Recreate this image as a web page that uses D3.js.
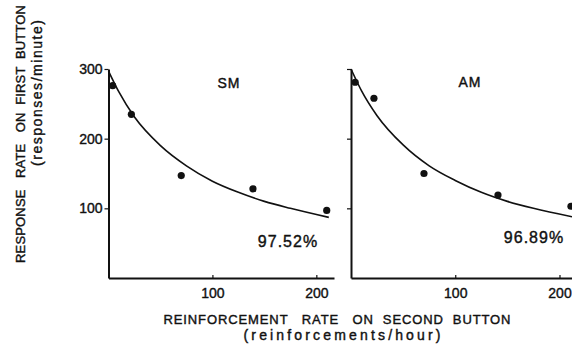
<!DOCTYPE html>
<html>
<head>
    <title>Response rate vs reinforcement rate</title>
    <script src="https://d3js.org/d3.v7.min.js"></script>
    <style>
        body { margin: 0; background: #fff; }
        text { font-family: "Liberation Sans", Arial, sans-serif; fill: #111; stroke: #111; stroke-width: 0.4px; white-space: pre; }
    </style>
</head>
<body>
    <div id="chart"></div>

    <script>
        // values
        const panelNames = ["SM", "AM"];
        const fitLabels = ["97.52%", "96.89%"];
        const xTicks = [100, 200];
        const yTicks = [100, 200, 300];

        // data points (reinforcements/hour, responses/minute)
        const smRate = [4, 22, 70, 139, 210];
        const smResp = [276, 235, 147, 128, 97];
        const amRate = [4, 22, 70, 141, 211];
        const amResp = [281, 258, 150, 119, 103];

        // fitted curves, read at a few x positions
        const curveRate = [0, 10, 25, 50, 75, 100, 125, 150, 175, 212];
        const smCurve = [297, 267, 231, 190, 161, 139, 123, 110, 100, 87];
        const amCurve = [300, 269, 233, 191, 161, 140, 123, 110, 100, 88];

        const width = 572, height = 355;

        const svg = d3.select("#chart").append("svg")
            .attr("width", width)
            .attr("height", height);

        const y = d3.scaleLinear().domain([0, 300]).range([278, 69]);

        const panels = [
            { name: panelNames[0], fit: fitLabels[0], rate: smRate, resp: smResp, curve: smCurve,
              x: d3.scaleLinear().domain([0, 217]).range([108.5, 334]),
              labels: true, nameX: 229, nameY: 88, fitX: 288, fitY: 247 },
            { name: panelNames[1], fit: fitLabels[1], rate: amRate, resp: amResp, curve: amCurve,
              x: d3.scaleLinear().domain([0, 212]).range([351, 572]),
              labels: false, nameX: 470, nameY: 87, fitX: 534, fitY: 243 }
        ];

        panels.forEach(p => {
            const g = svg.append("g");

            // x axis
            const xa = g.append("g")
                .attr("transform", `translate(0,${y(0)})`)
                .call(d3.axisBottom(p.x).tickValues(xTicks).tickSizeInner(-3).tickSizeOuter(0).tickPadding(10));
            xa.select(".domain").attr("stroke", "#111").attr("stroke-width", 2);
            xa.selectAll(".tick line").attr("stroke", "#111").attr("stroke-width", 1.2);
            xa.selectAll(".tick text").attr("font-size", 14).attr("font-family", "Liberation Sans").attr("fill", "#111");

            // y axis
            const ya = g.append("g")
                .attr("transform", `translate(${p.x(0)},0)`)
                .call(d3.axisLeft(y).tickValues(yTicks).tickSizeInner(4).tickSizeOuter(0).tickPadding(2)
                    .tickFormat(p.labels ? d3.format("d") : () => ""));
            ya.select(".domain").attr("stroke", "#111").attr("stroke-width", 2);
            ya.selectAll(".tick line").attr("stroke", "#111").attr("stroke-width", 1.2);
            ya.selectAll(".tick text").attr("font-size", 14).attr("font-family", "Liberation Sans").attr("fill", "#111");

            // fitted curve
            const line = d3.line()
                .x((d, i) => p.x(curveRate[i]))
                .y(d => y(d))
                .curve(d3.curveMonotoneX);
            g.append("path")
                .datum(p.curve)
                .attr("fill", "none")
                .attr("stroke", "#111")
                .attr("stroke-width", 1.6)
                .attr("d", line);

            // points
            g.selectAll("circle")
                .data(p.rate)
                .join("circle")
                .attr("cx", d => p.x(d))
                .attr("cy", (d, i) => y(p.resp[i]))
                .attr("r", 3.6)
                .attr("fill", "#111");

            g.append("text")
                .attr("x", p.nameX).attr("y", p.nameY)
                .attr("text-anchor", "middle")
                .attr("font-size", 14)
                .attr("letter-spacing", 1)
                .text(p.name);

            g.append("text")
                .attr("x", p.fitX).attr("y", p.fitY)
                .attr("text-anchor", "middle")
                .attr("font-size", 16)
                .attr("letter-spacing", 1)
                .text(p.fit);
        });

        // axis titles
        svg.append("text")
            .attr("transform", "translate(25,134) rotate(-90)")
            .attr("text-anchor", "middle")
            .attr("font-size", 13)
            .attr("textLength", 258)
            .attr("lengthAdjust", "spacing")
            .text("RESPONSE   RATE   ON  FIRST  BUTTON");

        svg.append("text")
            .attr("transform", "translate(42,93) rotate(-90)")
            .attr("text-anchor", "middle")
            .attr("font-size", 14)
            .attr("textLength", 146)
            .attr("lengthAdjust", "spacing")
            .text("(responses/minute)");

        svg.append("text")
            .attr("x", 337).attr("y", 324)
            .attr("text-anchor", "middle")
            .attr("font-size", 13)
            .attr("textLength", 347)
            .attr("lengthAdjust", "spacing")
            .text("REINFORCEMENT   RATE   ON  SECOND  BUTTON");

        svg.append("text")
            .attr("x", 342).attr("y", 340)
            .attr("text-anchor", "middle")
            .attr("font-size", 14)
            .attr("textLength", 197)
            .attr("lengthAdjust", "spacing")
            .text("(reinforcements/hour)");
    </script>
</body>
</html>
